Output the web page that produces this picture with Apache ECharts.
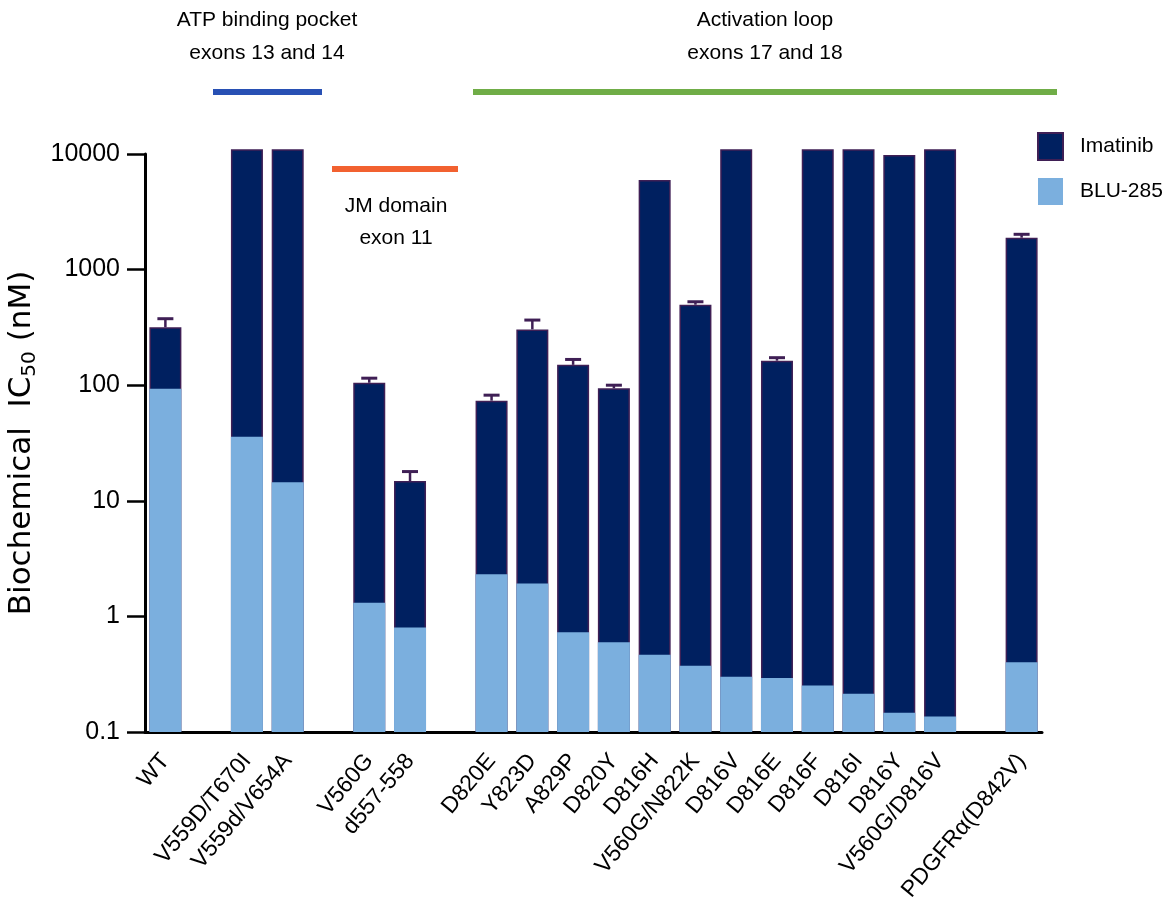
<!DOCTYPE html>
<html><head><meta charset="utf-8">
<script src="https://cdn.jsdelivr.net/npm/echarts@6/dist/echarts.min.js"></script>
<style>html,body{margin:0;padding:0;background:#fff}#main{width:1162px;height:904px}</style>
</head><body><div id="main"></div>
<script>
const categories = ['WT','','V559D/T670I','V559d/V654A','','V560G','d557-558','','D820E','Y823D','A829P','D820Y','D816H','V560G/N822K','D816V','D816E','D816F','D816I','D816Y','V560G/D816V','','PDGFRα(D842V)'];
const imatinib = [317,null,11000,11000,null,105,14.8,null,73.5,304,150,94,5960,497,11000,163,11000,11000,9800,11000,null,1888];
const imatinibErr = [376,null,null,null,null,115,17.9,null,82,366,167,100,null,527,null,173,null,null,null,null,null,2020];
const blu = [93,null,35.8,14.5,null,1.31,0.80,null,2.31,1.93,0.728,0.597,0.466,0.375,0.301,0.293,0.252,0.214,0.147,0.136,null,0.401];
const bluErr = [102,null,null,null,null,1.41,0.82,null,2.64,2.25,0.99,0.646,0.48,null,0.380,0.318,0.284,0.229,0.171,0.137,null,0.502];
const yTickLabels = ['0.1','1','10','100','1000','10000'];

const FONT = '"Liberation Sans",Arial,sans-serif';
const DARK = '#002060', BORDER = '#3f1f55', LIGHT = '#7bafde';

function errSeries(name, vals, errs, color) {
  const data = [];
  vals.forEach((v, i) => { if (v != null && errs[i] != null) data.push([i, v, errs[i]]); });
  return {
    type: 'custom', name: name, data: data, silent: true, z: 2,
    encode: { x: 0, y: [1, 2] },
    renderItem: function (params, api) {
      const p0 = api.coord([api.value(0), api.value(1)]);
      const p1 = api.coord([api.value(0), api.value(2)]);
      const cap = 8;
      return { type: 'group', children: [
        { type: 'line', shape: { x1: p0[0], y1: p0[1], x2: p1[0], y2: p1[1] }, style: { stroke: color, lineWidth: 2.5 } },
        { type: 'line', shape: { x1: p1[0] - cap, y1: p1[1], x2: p1[0] + cap, y2: p1[1] }, style: { stroke: color, lineWidth: 3 } }
      ]};
    }
  };
}

const chart = echarts.init(document.getElementById('main'), null, { renderer: 'canvas' });
chart.setOption({
  backgroundColor: '#fff',
  animation: false,
  grid: { left: 145, top: 154, width: 897, height: 578, containLabel: false, outerBoundsMode: 'none' },
  legend: {
    data: ['Imatinib', 'BLU-285'], orient: 'vertical', left: 1032, top: 127,
    itemWidth: 25, itemHeight: 27, itemGap: 17, icon: 'rect',
    textStyle: { fontSize: 21, fontFamily: FONT, color: '#000', padding: [0, 0, 0, 12] }
  },
  xAxis: {
    type: 'category', data: categories,
    axisLine: { lineStyle: { color: '#000', width: 3 } },
    axisTick: { alignWithLabel: true, length: 20, lineStyle: { color: '#000', width: 2.5 },
      interval: function (i, v) { return v !== ''; } },
    axisLabel: { rotate: 50, margin: 25, interval: 0, fontSize: 23, fontFamily: FONT, color: '#000' }
  },
  yAxis: {
    type: 'log', logBase: 10, min: 0.1, max: 10000, startValue: 0.1,
    splitLine: { show: false },
    axisLine: { show: true, lineStyle: { color: '#000', width: 3 } },
    axisTick: { show: true, length: 18, lineStyle: { color: '#000', width: 2.5 } },
    axisLabel: { margin: 25, fontSize: 25, fontFamily: FONT, color: '#000',
      formatter: function (v) { return yTickLabels[Math.round(Math.log10(v)) + 1]; } },
    name: '{a|Biochemical  IC}{b|50}{a| (nM)}',
    nameLocation: 'middle', nameRotate: 90, nameGap: 102,
    nameTextStyle: { rich: {
      a: { fontSize: 31, fontFamily: '"DejaVu Sans",sans-serif', color: '#000' },
      b: { fontSize: 20, fontFamily: '"DejaVu Sans",sans-serif', color: '#000', padding: [16, 0, 0, 0] }
    } }
  },
  series: [
    { type: 'bar', name: 'Imatinib', data: imatinib, barWidth: 32, clip: false, z: 2,
      itemStyle: { color: DARK, borderColor: BORDER, borderWidth: 1.5 } },
    errSeries('Imatinib err', imatinib, imatinibErr, BORDER),
    { type: 'bar', name: 'BLU-285', data: blu, barWidth: 32, barGap: '-100%', clip: false, z: 2,
      itemStyle: { color: LIGHT } },
    errSeries('BLU err', blu, bluErr, LIGHT)
  ],
  graphic: [
    { type: 'rect', shape: { x: 213, y: 89, width: 109, height: 6 }, style: { fill: '#2850b4' } },
    { type: 'rect', shape: { x: 473, y: 89, width: 584, height: 6 }, style: { fill: '#70ad47' } },
    { type: 'rect', shape: { x: 332, y: 166, width: 126, height: 6 }, style: { fill: '#f26130' } },
    { type: 'text', x: 267, y: 20, style: { text: 'ATP binding pocket', fontSize: 21, fontFamily: FONT, fill: '#000', align: 'center', verticalAlign: 'middle' } },
    { type: 'text', x: 267, y: 53, style: { text: 'exons 13 and 14', fontSize: 21, fontFamily: FONT, fill: '#000', align: 'center', verticalAlign: 'middle' } },
    { type: 'text', x: 765, y: 20, style: { text: 'Activation loop', fontSize: 21, fontFamily: FONT, fill: '#000', align: 'center', verticalAlign: 'middle' } },
    { type: 'text', x: 765, y: 53, style: { text: 'exons 17 and 18', fontSize: 21, fontFamily: FONT, fill: '#000', align: 'center', verticalAlign: 'middle' } },
    { type: 'text', x: 396, y: 206, style: { text: 'JM domain', fontSize: 21, fontFamily: FONT, fill: '#000', align: 'center', verticalAlign: 'middle' } },
    { type: 'text', x: 396, y: 238, style: { text: 'exon 11', fontSize: 21, fontFamily: FONT, fill: '#000', align: 'center', verticalAlign: 'middle' } }
  ]
});
</script></body></html>
